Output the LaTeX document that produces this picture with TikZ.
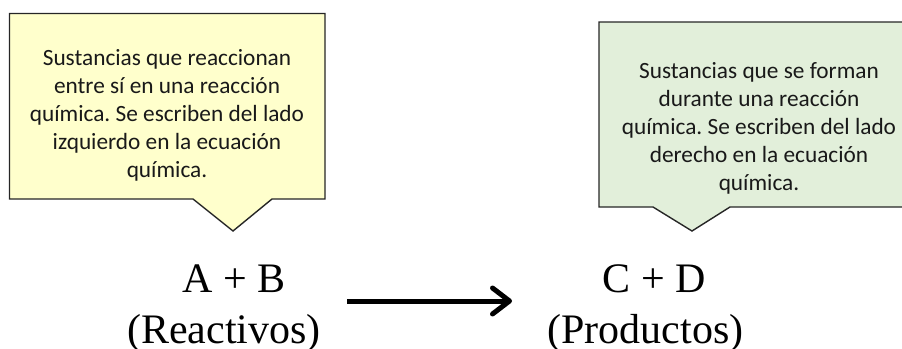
\documentclass[tikz,border=0pt]{standalone}
\usepackage{fontspec}
\setmainfont{Liberation Serif}
\newfontfamily\notefont{Carlito}
\usetikzlibrary{arrows.meta}
\definecolor{noteyellow}{HTML}{FFFFCC}
\definecolor{notegreen}{HTML}{E2EFDA}
\frenchspacing
\begin{document}
\begin{tikzpicture}[x=1pt,y=-1pt,
  callout/.style={draw=black!85,line width=1.4pt,line join=miter},
  notetext/.style={align=center,font=\notefont\fontsize{23.3}{28}\selectfont,inner sep=0pt,text=black!90},
  formula/.style={font=\fontsize{42}{51}\selectfont,inner sep=0pt,anchor=base}]
\useasboundingbox (0,0) rectangle (902,348);
% left callout (reactants); a multi-line node's base is its last baseline
\draw[callout,fill=noteyellow] (9.5,13.5) -- (325,13.5) -- (325,199) -- (272,199)
  -- (233,231) -- (193,199) -- (9.5,199) -- cycle;
\node[notetext,anchor=base] (leftnote) at (167,177)
  {Sustancias que reaccionan\\entre sí en una reacción\\química. Se escriben del lado\\izquierdo en la ecuación\\química.};
% right callout (products)
\draw[callout,fill=notegreen] (599,22) -- (915,22) -- (915,207) -- (730,207)
  -- (692,231) -- (653,207) -- (599,207) -- cycle;
\node[notetext,anchor=base] (rightnote) at (759,190)
  {Sustancias que se forman\\durante una reacción\\química. Se escriben del lado\\derecho en la ecuación\\química.};
% equation
\node[formula] (reac) at (234,292) {A + B};
\node[formula] (reaclabel) at (224,343) {(Reactivos)};
\node[formula] (prod) at (654,292) {C + D};
\node[formula] (prodlabel) at (645.5,343) {(Productos)};
\coordinate (arrowstart) at (347,301);
\coordinate (arrowend) at (512,301);
\draw[line width=5pt,-{Straight Barb[length=17pt,width=26pt,round]}] (arrowstart) -- (arrowend);
\end{tikzpicture}
\end{document}
